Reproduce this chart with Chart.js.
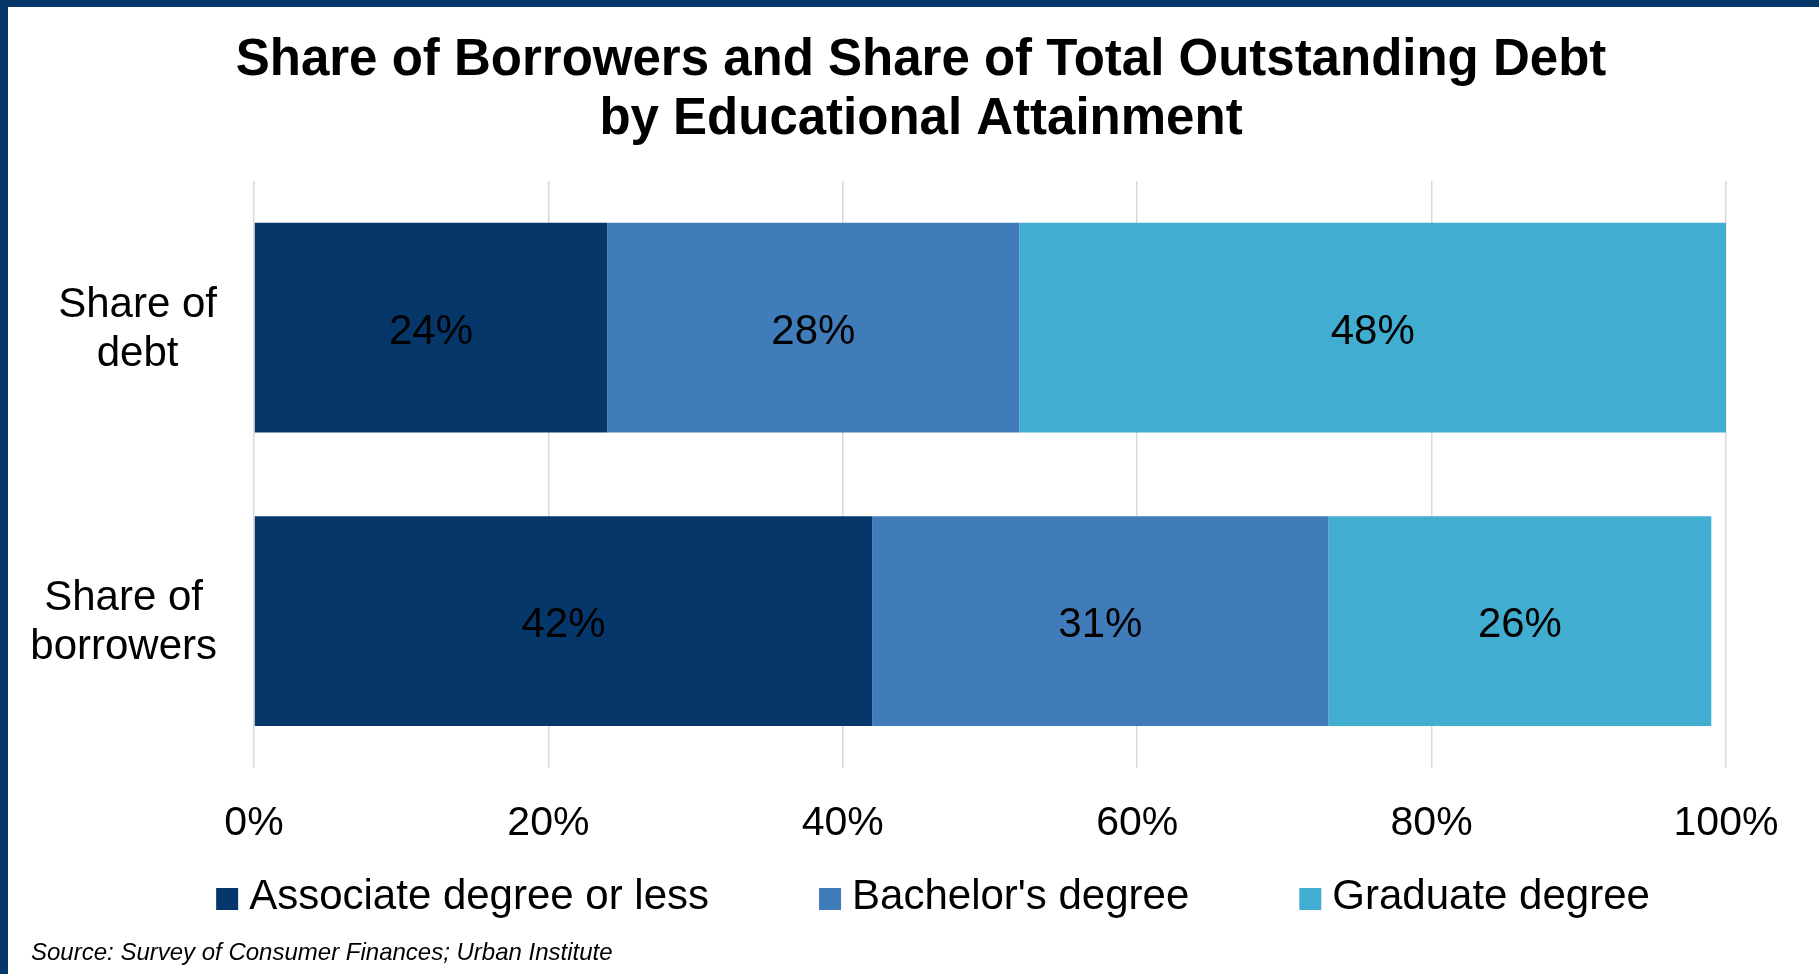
<!DOCTYPE html>
<html>
<head>
<meta charset="utf-8">
<title>Share of Borrowers and Share of Total Outstanding Debt</title>
<script src="https://cdn.jsdelivr.net/npm/chart.js@4.4.1/dist/chart.umd.min.js"></script>
<style>
  html, body { margin: 0; padding: 0; background: #fff; }
  #frame {
    width: 1819px; height: 974px; box-sizing: border-box;
    border-top: 7px solid #06376A; border-left: 8px solid #06376A;
    background: #fff;
  }
  canvas { display: block; }
</style>
</head>
<body>
<div id="frame"><canvas id="debtChart" width="1811" height="967"></canvas></div>
<script>
// categories (one per bar) and the three stacked series, in percent
const categories = [['Share of', 'debt'], ['Share of', 'borrowers']];
const seriesNames = ['Associate degree or less', "Bachelor's degree", 'Graduate degree'];
const associateVals = [24, 42];
const bachelorVals = [28, 31];
const graduateVals = [48, 26];
const xTickValues = [0, 20, 40, 60, 80, 100];
const sourceNote = 'Source: Survey of Consumer Finances; Urban Institute';

const COLORS = ['#06376A', '#407CBA', '#40ADD1'];
const FONT = '"Liberation Sans", Arial, sans-serif';

// category names on the left, each block right-aligned, lines centered
const categoryLabels = {
  id: 'categoryLabels',
  afterDraw(chart) {
    const ctx = chart.ctx;
    const y = chart.scales.y;
    const right = 209;
    ctx.save();
    ctx.font = '42px ' + FONT;
    ctx.fillStyle = '#000';
    ctx.textAlign = 'center';
    ctx.textBaseline = 'alphabetic';
    chart.data.labels.forEach((lines, i) => {
      const cy = y.getPixelForValue(i);
      const w = Math.max(...lines.map(l => ctx.measureText(l).width));
      const cx = right - w / 2;
      ctx.fillText(lines[0], cx, cy - 11);
      ctx.fillText(lines[1], cx, cy + 38);
    });
    ctx.restore();
  }
};

// value labels in the middle of each segment
const segmentLabels = {
  id: 'segmentLabels',
  afterDatasetsDraw(chart) {
    const ctx = chart.ctx;
    ctx.save();
    ctx.font = '42px ' + FONT;
    ctx.fillStyle = '#000';
    ctx.textAlign = 'center';
    ctx.textBaseline = 'alphabetic';
    chart.data.datasets.forEach((ds, di) => {
      chart.getDatasetMeta(di).data.forEach((bar, i) => {
        const p = bar.getCenterPoint();
        ctx.fillText(ds.data[i] + '%', p.x, p.y + 16);
      });
    });
    ctx.restore();
  }
};

// legend row + source line under the axis
const bottomLegend = {
  id: 'bottomLegend',
  afterDraw(chart) {
    const ctx = chart.ctx;
    const box = 22, gap = 11, spacing = 110;
    ctx.save();
    ctx.font = '42px ' + FONT;
    const items = chart.data.datasets.map(ds => ({
      text: ds.label, color: ds.backgroundColor, w: ctx.measureText(ds.label).width
    }));
    const total = items.reduce((s, it) => s + box + gap + it.w, 0) + spacing * (items.length - 1);
    let x = 925 - total / 2;
    ctx.textAlign = 'left';
    ctx.textBaseline = 'alphabetic';
    items.forEach(it => {
      ctx.fillStyle = it.color;
      ctx.fillRect(x, 881, box, box);
      ctx.fillStyle = '#000';
      ctx.fillText(it.text, x + box + gap, 902);
      x += box + gap + it.w + spacing;
    });

    ctx.font = 'italic 24px ' + FONT;
    ctx.fillText(sourceNote, 23, 953);
    ctx.restore();
  }
};

const datasets = [associateVals, bachelorVals, graduateVals].map((vals, i) => ({
  label: seriesNames[i],
  data: vals,
  backgroundColor: COLORS[i],
  borderWidth: 0,
  barPercentage: 0.715,
  categoryPercentage: 1
}));

new Chart(document.getElementById('debtChart'), {
  type: 'bar',
  data: { labels: categories, datasets: datasets },
  plugins: [categoryLabels, segmentLabels, bottomLegend],
  options: {
    indexAxis: 'y',
    responsive: false,
    animation: false,
    events: [],
    layout: { padding: { left: 108, right: 93, top: 0, bottom: 95 } },
    plugins: {
      legend: { display: false },
      tooltip: { enabled: false },
      title: {
        display: true,
        text: ['Share of Borrowers and Share of Total Outstanding Debt', 'by Educational Attainment'],
        color: '#000',
        font: { family: FONT, size: 51, weight: 'bold', lineHeight: 59 / 51 },
        padding: { top: 24, bottom: 32 }
      }
    },
    scales: {
      x: {
        stacked: true,
        min: 0,
        max: 100,
        afterBuildTicks: s => { s.ticks = xTickValues.map(v => ({ value: v })); },
        grid: { color: '#D9D9D9', lineWidth: 1.5, drawTicks: false },
        border: { display: false },
        ticks: {
          color: '#000',
          padding: 31,
          font: { family: FONT, size: 41 },
          callback: v => v + '%'
        }
      },
      y: {
        stacked: true,
        grid: { display: false },
        border: { display: false },
        ticks: { display: false },
        afterFit: s => { s.width = 138; }
      }
    }
  }
});
</script>
</body>
</html>
